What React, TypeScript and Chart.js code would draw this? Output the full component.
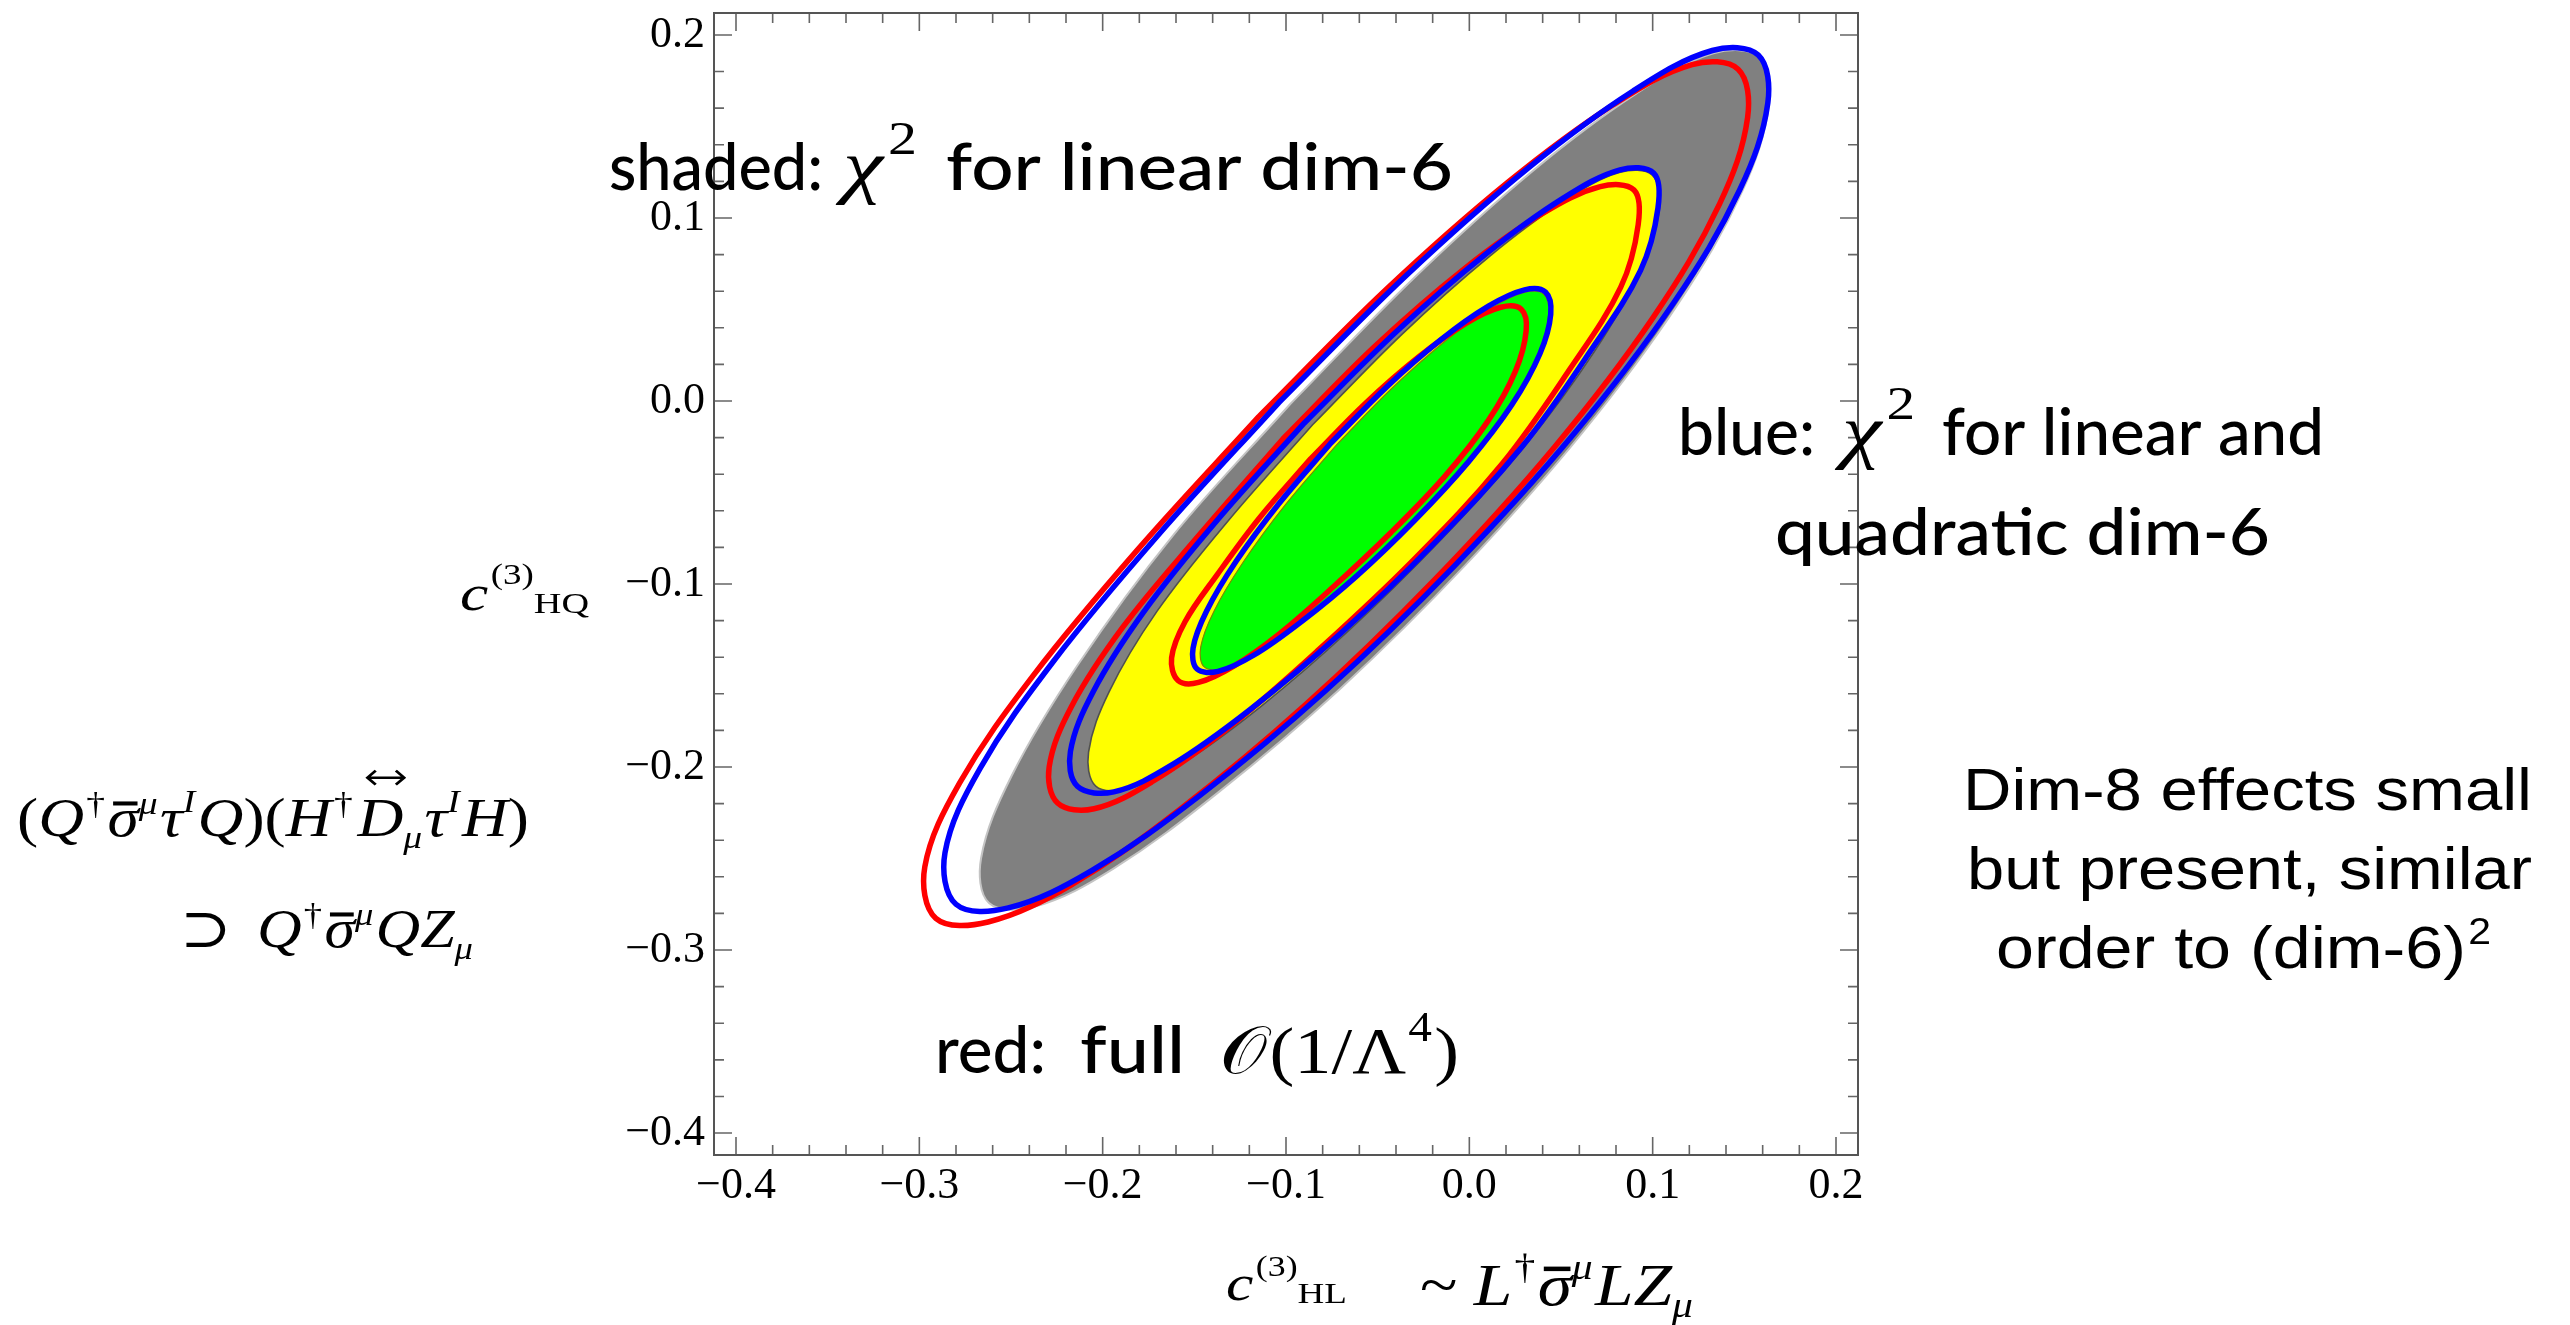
import React, { useEffect, useRef } from 'react';
import { Chart, registerables } from 'chart.js';

Chart.register(...registerables);

type Pt = [number, number];

// ---------- axes ----------
const X_MIN = -0.412;
const X_MAX = 0.212;
const Y_MIN = -0.412;
const Y_MAX = 0.212;
const MAJOR_TICKS = [-0.4, -0.3, -0.2, -0.1, 0.0, 0.1, 0.2];
const TICK_LABELS = ['\u22120.4', '\u22120.3', '\u22120.2', '\u22120.1', '0.0', '0.1', '0.2'];
const MINOR_DIVISIONS = 5;

// ---------- contour data (c_HL, c_HQ) ----------
// shaded: chi^2 for linear dim-6
const GRAY_OUTER: Pt[] = [
  [-0.0978, -0.0018], [-0.1619, -0.0738], [-0.2137, -0.1444], [-0.2497, -0.2049], [-0.2663, -0.2497],
  [-0.2620, -0.2743], [-0.2371, -0.2763], [-0.1941, -0.2555], [-0.1371, -0.2140], [-0.0704, -0.1572],
  [-0.0018, -0.0893], [0.0620, -0.0169], [0.1141, 0.0534], [0.1490, 0.1149], [0.1634, 0.1617],
  [0.1585, 0.1878], [0.1331, 0.1900], [0.0908, 0.1678], [0.0346, 0.1257], [-0.0303, 0.0671],
];
const YELLOW_REGION: Pt[] = [
  [-0.0855, -0.0130], [-0.1315, -0.0654], [-0.1705, -0.1151], [-0.1965, -0.1589], [-0.2077, -0.1919],
  [-0.2038, -0.2104], [-0.1858, -0.2118], [-0.1547, -0.1968], [-0.1136, -0.1668], [-0.0657, -0.1254],
  [-0.0160, -0.0764], [0.0305, -0.0243], [0.0680, 0.0267], [0.0932, 0.0712], [0.1037, 0.1049],
  [0.0998, 0.1234], [0.0818, 0.1248], [0.0514, 0.1091], [0.0107, 0.0788], [-0.0365, 0.0367],
];
const GREEN_REGION: Pt[] = [
  [-0.0729, -0.0245], [-0.1005, -0.0569], [-0.1233, -0.0880], [-0.1392, -0.1147], [-0.1465, -0.1344],
  [-0.1446, -0.1453], [-0.1336, -0.1462], [-0.1147, -0.1370], [-0.0896, -0.1187], [-0.0601, -0.0937],
  [-0.0296, -0.0639], [-0.0009, -0.0325], [0.0223, -0.0017], [0.0374, 0.0257], [0.0432, 0.0467],
  [0.0406, 0.0583], [0.0296, 0.0592], [0.0107, 0.0500], [-0.0144, 0.0317], [-0.0432, 0.0060],
];

// blue: chi^2 for linear and quadratic dim-6
const BLUE_OUTER: Pt[] = [
  [-0.1040, -0.0010], [-0.1699, -0.0735], [-0.2265, -0.1418], [-0.2670, -0.2010], [-0.2860, -0.2468],
  [-0.2800, -0.2750], [-0.2515, -0.2770], [-0.2058, -0.2565], [-0.1469, -0.2155], [-0.0786, -0.1585],
  [-0.0082, -0.0902], [0.0575, -0.0174], [0.1113, 0.0534], [0.1475, 0.1154], [0.1628, 0.1627],
  [0.1576, 0.1890], [0.1325, 0.1915], [0.0893, 0.1694], [0.0319, 0.1271], [-0.0347, 0.0683],
];
const BLUE_MID: Pt[] = [
  [-0.0900, -0.0120], [-0.1373, -0.0649], [-0.1775, -0.1151], [-0.2051, -0.1587], [-0.2176, -0.1916],
  [-0.2138, -0.2105], [-0.1939, -0.2136], [-0.1620, -0.1987], [-0.1197, -0.1687], [-0.0703, -0.1271],
  [-0.0192, -0.0778], [0.0286, -0.0252], [0.0652, 0.0260], [0.0934, 0.0714], [0.1029, 0.1055],
  [0.1006, 0.1245], [0.0822, 0.1263], [0.0510, 0.1107], [0.0091, 0.0804], [-0.0396, 0.0381],
];
const BLUE_INNER: Pt[] = [
  [-0.0756, -0.0231], [-0.1038, -0.0560], [-0.1272, -0.0876], [-0.1433, -0.1148], [-0.1507, -0.1351],
  [-0.1485, -0.1465], [-0.1371, -0.1477], [-0.1174, -0.1388], [-0.0915, -0.1205], [-0.0612, -0.0954],
  [-0.0299, -0.0653], [-0.0006, -0.0334], [0.0232, -0.0021], [0.0385, 0.0258], [0.0444, 0.0474],
  [0.0415, 0.0595], [0.0301, 0.0607], [0.0104, 0.0518], [-0.0155, 0.0335], [-0.0451, 0.0077],
];

// red: full O(1/Lambda^4)
const RED_OUTER: Pt[] = [
  [-0.1150, -0.0087], [-0.1809, -0.0812], [-0.2375, -0.1495], [-0.2780, -0.2087], [-0.2970, -0.2545],
  [-0.2910, -0.2827], [-0.2625, -0.2847], [-0.2168, -0.2642], [-0.1579, -0.2232], [-0.0896, -0.1662],
  [-0.0192, -0.0979], [0.0465, -0.0251], [0.1003, 0.0457], [0.1365, 0.1077], [0.1518, 0.1550],
  [0.1466, 0.1813], [0.1215, 0.1838], [0.0783, 0.1617], [0.0209, 0.1194], [-0.0457, 0.0606],
];
const RED_MID: Pt[] = [
  [-0.1015, -0.0205], [-0.1481, -0.0741], [-0.1890, -0.1236], [-0.2170, -0.1669], [-0.2292, -0.2001],
  [-0.2246, -0.2197], [-0.2047, -0.2228], [-0.1728, -0.2079], [-0.1305, -0.1779], [-0.0818, -0.1356],
  [-0.0303, -0.0867], [0.0178, -0.0344], [0.0544, 0.0168], [0.0826, 0.0622], [0.0921, 0.0963],
  [0.0898, 0.1153], [0.0714, 0.1171], [0.0395, 0.1022], [-0.0028, 0.0722], [-0.0515, 0.0299],
];
const RED_INNER: Pt[] = [
  [-0.0866, -0.0316], [-0.1145, -0.0639], [-0.1376, -0.0950], [-0.1550, -0.1205], [-0.1624, -0.1404],
  [-0.1589, -0.1527], [-0.1477, -0.1538], [-0.1285, -0.1449], [-0.1031, -0.1268], [-0.0740, -0.1014],
  [-0.0429, -0.0720], [-0.0135, -0.0413], [0.0104, -0.0106], [0.0251, 0.0162], [0.0310, 0.0384],
  [0.0283, 0.0501], [0.0171, 0.0512], [-0.0021, 0.0423], [-0.0275, 0.0242], [-0.0566, -0.0012],
];

// ---------- fonts ----------
const SERIF = '"Liberation Serif", "Times New Roman", serif';
const HAND = 'Lato, "Noto Sans", sans-serif';
const SANS = '"Liberation Sans", Arial, sans-serif';
const SYM = '"DejaVu Serif", "DejaVu Sans", serif';

const closeLoop = (pts: Pt[]) => {
  const out = pts.map(([x, y]) => ({ x, y }));
  out.push({ x: pts[0][0], y: pts[0][1] });
  return out;
};

type Run = { t: string; f: string; dy?: number; pre?: number; bar?: boolean; arrow?: boolean; size?: number };

function drawRuns(ctx: CanvasRenderingContext2D, runs: Run[], x0: number, x1: number | null, y: number) {
  const widths = runs.map((r) => {
    ctx.font = r.f;
    return ctx.measureText(r.t).width;
  });
  let total = 0;
  runs.forEach((r, i) => (total += widths[i] + (r.pre || 0)));
  const sx = x1 != null ? (x1 - x0) / total : 1;
  ctx.save();
  ctx.translate(x0, y);
  ctx.scale(sx, 1);
  ctx.fillStyle = '#000';
  ctx.strokeStyle = '#000';
  ctx.textBaseline = 'alphabetic';
  ctx.textAlign = 'left';
  let cx = 0;
  runs.forEach((r, i) => {
    cx += r.pre || 0;
    ctx.font = r.f;
    const dy = r.dy || 0;
    ctx.fillText(r.t, cx, dy);
    const w = widths[i];
    const s = r.size || 50;
    if (r.bar) {
      ctx.fillRect(cx + w * 0.18, dy - s * 0.64, w * 0.78, s * 0.075);
    }
    if (r.arrow) {
      const ay = dy - s * 1.08;
      const ax0 = cx + w * 0.22;
      const ax1 = cx + w * 1.02;
      const h = s * 0.13;
      ctx.lineWidth = 2.5;
      ctx.beginPath();
      ctx.moveTo(ax0, ay);
      ctx.lineTo(ax1, ay);
      ctx.moveTo(ax0 + h, ay - h);
      ctx.lineTo(ax0, ay);
      ctx.lineTo(ax0 + h, ay + h);
      ctx.moveTo(ax1 - h, ay - h);
      ctx.lineTo(ax1, ay);
      ctx.lineTo(ax1 - h, ay + h);
      ctx.stroke();
    }
    cx += w;
  });
  ctx.restore();
}

const shapeFillPlugin = {
  id: 'shapeFill',
  beforeDatasetDraw(chart: any, args: any) {
    const ds = chart.data.datasets[args.index];
    if (!ds.shapeFill) return;
    const meta = args.meta;
    const line = meta.dataset;
    if (line && typeof line.updateControlPoints === 'function') line.updateControlPoints(chart.chartArea, 'x');
    const pts = meta.data;
    const ctx: CanvasRenderingContext2D = chart.ctx;
    ctx.save();
    ctx.beginPath();
    pts.forEach((p: any, i: number) => {
      if (i === 0) ctx.moveTo(p.x, p.y);
      else {
        const q = pts[i - 1];
        if (q.cp2x !== undefined && p.cp1x !== undefined) ctx.bezierCurveTo(q.cp2x, q.cp2y, p.cp1x, p.cp1y, p.x, p.y);
        else ctx.lineTo(p.x, p.y);
      }
    });
    ctx.closePath();
    ctx.fillStyle = ds.shapeFill;
    ctx.fill();
    ctx.restore();
  },
};

const backgroundPlugin = {
  id: 'whiteBg',
  beforeDraw(chart: any) {
    const ctx = chart.ctx;
    ctx.save();
    ctx.fillStyle = '#fff';
    ctx.fillRect(0, 0, chart.width, chart.height);
    ctx.restore();
  },
};

const frameTicksPlugin = {
  id: 'frameTicks',
  afterDatasetsDraw(chart: any) {
    const { ctx, chartArea: a, scales } = chart;
    ctx.save();
    const majorLen = 18;
    const minorLen = 10;
    ctx.strokeStyle = '#666';
    ctx.lineWidth = 1.6;
    const step = MAJOR_TICKS[1] - MAJOR_TICKS[0];
    const all: { v: number; major: boolean }[] = [];
    MAJOR_TICKS.forEach((v, i) => {
      all.push({ v, major: true });
      if (i < MAJOR_TICKS.length - 1) {
        for (let k = 1; k < MINOR_DIVISIONS; k++) all.push({ v: v + (k * step) / MINOR_DIVISIONS, major: false });
      }
    });
    ctx.beginPath();
    all.forEach(({ v, major }) => {
      const len = major ? majorLen : minorLen;
      const px = scales.x.getPixelForValue(v);
      ctx.moveTo(px, a.bottom);
      ctx.lineTo(px, a.bottom - len);
      ctx.moveTo(px, a.top);
      ctx.lineTo(px, a.top + len);
      const py = scales.y.getPixelForValue(v);
      ctx.moveTo(a.left, py);
      ctx.lineTo(a.left + len, py);
      ctx.moveTo(a.right, py);
      ctx.lineTo(a.right - len, py);
    });
    ctx.stroke();
    ctx.strokeStyle = '#555';
    ctx.lineWidth = 2;
    ctx.strokeRect(a.left, a.top, a.right - a.left, a.bottom - a.top);
    ctx.restore();
  },
};

const textPlugin = {
  id: 'annotations',
  afterDraw(chart: any) {
    const ctx: CanvasRenderingContext2D = chart.ctx;
    const hand = `500 66px ${HAND}`;
    const L = 54;
    const S = 32;
    const it = (s: number) => `italic ${s}px ${SERIF}`;
    const up = (s: number) => `${s}px ${SERIF}`;

    // shaded annotation
    drawRuns(ctx, [{ t: 'shaded:', f: hand }], 609, 823, 190);
    drawRuns(ctx, [{ t: '\u03c7', f: it(72) }, { t: '2', f: up(46), dy: -36, pre: 4 }], 843, 917, 190);
    drawRuns(ctx, [{ t: 'for linear dim-6', f: hand }], 946, 1453, 190);

    // blue annotation
    drawRuns(ctx, [{ t: 'blue:', f: hand }], 1678, 1815, 455);
    drawRuns(ctx, [{ t: '\u03c7', f: it(72) }, { t: '2', f: up(46), dy: -36, pre: 4 }], 1842, 1915, 455);
    drawRuns(ctx, [{ t: 'for linear and', f: hand }], 1942, 2324, 455);
    drawRuns(ctx, [{ t: 'quadratic dim-6', f: hand }], 1775, 2270, 555);

    // red annotation
    drawRuns(ctx, [{ t: 'red:', f: hand }], 935, 1046, 1073);
    drawRuns(ctx, [{ t: 'full', f: hand }], 1080, 1185, 1073);
    drawRuns(
      ctx,
      [
        { t: '\ud835\udcaa', f: `66px ${SERIF}` },
        { t: '(1/\u039b', f: up(66), pre: 2 },
        { t: '4', f: up(42), dy: -32, pre: 2 },
        { t: ')', f: up(66), pre: 2 },
      ],
      1220,
      1459,
      1073
    );

    // right-hand note
    drawRuns(ctx, [{ t: 'Dim-8 effects small', f: `60px ${SANS}` }], 1963, 2532, 810);
    drawRuns(ctx, [{ t: 'but present, similar', f: `60px ${SANS}` }], 1967, 2532, 889);
    drawRuns(ctx, [{ t: 'order to (dim-6)', f: `60px ${SANS}` }, { t: '2', f: `36px ${SANS}`, dy: -24, pre: 2 }], 1996, 2491, 968);

    // left operator
    drawRuns(
      ctx,
      [
        { t: '(', f: up(L) },
        { t: 'Q', f: it(L) },
        { t: '\u2020', f: up(S), dy: -22, pre: 2 },
        { t: '\u03c3', f: it(L), bar: true, size: L, pre: 2 },
        { t: '\u03bc', f: it(S), dy: -22 },
        { t: '\u03c4', f: it(L), pre: 2 },
        { t: 'I', f: it(S), dy: -24 },
        { t: 'Q', f: it(L), pre: 2 },
        { t: ')(', f: up(L) },
        { t: 'H', f: it(L) },
        { t: '\u2020', f: up(S), dy: -22, pre: 2 },
        { t: 'D', f: it(L), arrow: true, size: L, pre: 4 },
        { t: '\u03bc', f: it(S), dy: 12 },
        { t: '\u03c4', f: it(L), pre: 2 },
        { t: 'I', f: it(S), dy: -24 },
        { t: 'H', f: it(L), pre: 2 },
        { t: ')', f: up(L) },
      ],
      17,
      529,
      836
    );
    drawRuns(
      ctx,
      [
        { t: '\u2283', f: `${L}px ${SYM}` },
        { t: 'Q', f: it(L), pre: 22 },
        { t: '\u2020', f: up(S), dy: -22, pre: 2 },
        { t: '\u03c3', f: it(L), bar: true, size: L, pre: 2 },
        { t: '\u03bc', f: it(S), dy: -22 },
        { t: 'Q', f: it(L), pre: 2 },
        { t: 'Z', f: it(L) },
        { t: '\u03bc', f: it(S), dy: 12 },
      ],
      180,
      473,
      947
    );

    // axis labels
    drawRuns(
      ctx,
      [
        { t: 'c', f: it(50) },
        { t: '(3)', f: up(29), dy: -26, pre: 2 },
        { t: 'HQ', f: up(30), dy: 3 },
      ],
      460,
      589,
      610
    );
    drawRuns(
      ctx,
      [
        { t: 'c', f: it(50) },
        { t: '(3)', f: up(29), dy: -24, pre: 2 },
        { t: 'HL', f: up(30), dy: 3 },
      ],
      1226,
      1347,
      1300
    );
    drawRuns(
      ctx,
      [
        { t: '~', f: up(60) },
        { t: 'L', f: it(60), pre: 14 },
        { t: '\u2020', f: up(36), dy: -26, pre: 2 },
        { t: '\u03c3', f: it(60), bar: true, size: 60, pre: 2 },
        { t: '\u03bc', f: it(36), dy: -26 },
        { t: 'L', f: it(60), pre: 2 },
        { t: 'Z', f: it(60) },
        { t: '\u03bc', f: it(36), dy: 12 },
      ],
      1420,
      1693,
      1305
    );
  },
};

export default function App() {
  const ref = useRef<HTMLCanvasElement | null>(null);

  useEffect(() => {
    if (!ref.current) return;
    const line = (label: string, pts: Pt[], color: string, width: number, fillColor?: string) => ({
      label,
      data: closeLoop(pts),
      showLine: true,
      borderColor: color,
      borderWidth: width,
      pointRadius: 0,
      pointHoverRadius: 0,
      tension: 0.36,
      fill: false,
      borderJoinStyle: 'round',
      borderCapStyle: 'round',
      shapeFill: fillColor,
    });

    const datasets: any[] = [
      line('blue inner', BLUE_INNER, '#0000ff', 5.5),
      line('blue mid', BLUE_MID, '#0000ff', 5.5),
      line('blue outer', BLUE_OUTER, '#0000ff', 5.5),
      line('red inner', RED_INNER, '#ff0000', 5.5),
      line('red mid', RED_MID, '#ff0000', 5.5),
      line('red outer', RED_OUTER, '#ff0000', 5.5),
      line('green', GREEN_REGION, '#7a8a00', 1.2, '#00ff00'),
      line('yellow', YELLOW_REGION, '#505050', 1.6, '#ffff00'),
      line('gray', GRAY_OUTER, '#c4c4c4', 2, '#808080'),
    ];

    const tickFont = { family: '"Liberation Serif", "Times New Roman", serif', size: 44 };

    const chart = new Chart(ref.current, {
      type: 'scatter',
      data: { datasets },
      options: {
        animation: false,
        responsive: false,
        devicePixelRatio: 1,
        layout: { padding: { left: 0, top: 13, right: 712, bottom: 0 } },
        plugins: { legend: { display: false }, tooltip: { enabled: false } },
        events: [],
        scales: {
          x: {
            type: 'linear',
            min: X_MIN,
            max: X_MAX,
            grid: { display: false, drawTicks: false, tickLength: 0 },
            border: { display: false },
            afterBuildTicks: (s: any) => {
              s.ticks = MAJOR_TICKS.map((v) => ({ value: v }));
            },
            afterFit: (s: any) => {
              s.height = 170;
              s.paddingLeft = 0;
              s.paddingRight = 0;
            },
            ticks: {
              autoSkip: false,
              maxRotation: 0,
              padding: 5,
              color: '#000',
              font: tickFont,
              callback: (_v: any, i: number) => TICK_LABELS[i],
            },
          },
          y: {
            type: 'linear',
            min: Y_MIN,
            max: Y_MAX,
            grid: { display: false, drawTicks: false, tickLength: 0 },
            border: { display: false },
            afterBuildTicks: (s: any) => {
              s.ticks = MAJOR_TICKS.map((v) => ({ value: v }));
            },
            afterFit: (s: any) => {
              s.width = 714;
              s.paddingTop = 0;
              s.paddingBottom = 0;
            },
            ticks: {
              autoSkip: false,
              padding: 9,
              color: '#000',
              font: tickFont,
              callback: (_v: any, i: number) => TICK_LABELS[i],
            },
          },
        },
      } as any,
      plugins: [backgroundPlugin, shapeFillPlugin, frameTicksPlugin, textPlugin],
    });
    return () => chart.destroy();
  }, []);

  return (
    <div style={{ position: 'fixed', left: 0, top: 0, width: 2570, height: 1325, background: '#fff' }}>
      <canvas ref={ref} width={2570} height={1325} style={{ display: 'block', width: 2570, height: 1325 }} />
    </div>
  );
}
